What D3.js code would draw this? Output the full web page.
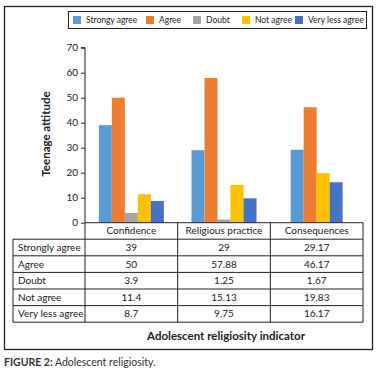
<!DOCTYPE html>
<html lang="en">
  <head>
    <meta charset="utf-8">
    <title>Adolescent religiosity</title>
    <style>
      body { margin: 0; background: #fff; }
      svg { display: block; font-family: Lato, "Open Sans", sans-serif; }
    </style>
    <script src="https://cdn.jsdelivr.net/npm/d3@7"></script>
  </head>
  <body>
    <div class="viz"></div>
    <script>
    // data
    const categories = ["Confidence", "Religious practice", "Consequences"]
    const seriesNames = ["Strongy agree", "Agree", "Doubt", "Not agree", "Very less agree"]
    const rowLabels = ["Strongly agree", "Agree", "Doubt", "Not agree", "Very less agree"]
    const strongly = [39, 29, 29.17]
    const agree = [50, 57.88, 46.17]
    const doubt = [3.9, 1.25, 1.67]
    const notAgree = [11.4, 15.13, 19.83]
    const veryLess = [8.7, 9.75, 16.17]
    const tableText = [
      ["39", "29", "29.17"],
      ["50", "57.88", "46.17"],
      ["3.9", "1.25", "1.67"],
      ["11.4", "15.13", "19.83"],
      ["8.7", "9.75", "16.17"]
    ]
    // the doubt bar for Consequences is not drawn in the original
    const hidden = [["Consequences", "Doubt"]]
    const yTicks = [0, 10, 20, 30, 40, 50, 60, 70]
    const colors = ["#5b9bd5", "#ed7d31", "#a5a5a5", "#ffc000", "#4472c4"]

    const series = [strongly, agree, doubt, notAgree, veryLess]
    const W = 378, H = 372

    const svg = d3.select(".viz").append("svg")
      .attr("width", W).attr("height", H)

    // outer frame
    svg.append("rect")
      .attr("x", 4.5).attr("y", 6.5).attr("width", 368).attr("height", 343)
      .attr("fill", "none").attr("stroke", "#222").attr("stroke-width", 1.3)

    const x = d3.scaleBand().domain(categories).range([85, 363])
    const y = d3.scaleLinear().domain([0, 70]).range([222.7, 47.7])
    const color = d3.scaleOrdinal().domain(seriesNames).range(colors)
    const barW = 13

    // bars
    const g = svg.append("g")
    categories.forEach((c, ci) => {
      const names = seriesNames.filter(s => !hidden.some(h => h[0] == c && h[1] == s))
      const x1 = d3.scaleBand().domain(names)
        .range([x(c) + x.bandwidth() / 2 - names.length * barW / 2, x(c) + x.bandwidth() / 2 + names.length * barW / 2])
      g.selectAll(null)
        .data(names.map(s => ({ s, v: series[seriesNames.indexOf(s)][ci] })))
        .join("rect")
        .attr("x", d => x1(d.s))
        .attr("width", x1.bandwidth())
        .attr("y", d => y(d.v))
        .attr("height", d => y(0) - y(d.v))
        .attr("fill", d => color(d.s))
    })

    // y axis
    const yAxis = svg.append("g")
      .attr("transform", "translate(85,0)")
      .call(d3.axisLeft(y).tickValues(yTicks).tickSize(4).tickPadding(3))
    yAxis.selectAll("path,line").attr("stroke", "#222")
    yAxis.select(".domain").attr("d", `M-4,${y(70)}H0V${y(0)}`)
    yAxis.selectAll("text").attr("font-size", 10).attr("fill", "#222")
      .attr("font-family", "Lato, sans-serif")

    svg.append("text")
      .attr("transform", "translate(50,134) rotate(-90)")
      .attr("text-anchor", "middle")
      .attr("font-size", 11.5).attr("font-weight", "bold").attr("fill", "#222")
      .text("Teenage attitude")

    // category row + table
    const rowTop = 222.7, catH = 16.5, rowH = 16.6
    const lineColor = "#222"
    const table = svg.append("g").attr("stroke", lineColor).attr("stroke-width", 1)
    table.append("line").attr("x1", 85).attr("x2", 363).attr("y1", rowTop).attr("y2", rowTop)
    const tableTop = rowTop + catH
    const tableBottom = tableTop + rowH * rowLabels.length
    ;[...categories.map(c => x(c)), 363].forEach(xx => {
      table.append("line").attr("x1", xx).attr("x2", xx).attr("y1", rowTop).attr("y2", tableBottom)
    })
    table.append("line").attr("x1", 13).attr("x2", 13).attr("y1", tableTop).attr("y2", tableBottom)
    d3.range(rowLabels.length + 1).forEach(i => {
      table.append("line").attr("x1", 13).attr("x2", 363)
        .attr("y1", tableTop + i * rowH).attr("y2", tableTop + i * rowH)
    })

    svg.selectAll(".cat")
      .data(categories)
      .join("text")
      .attr("class", "cat")
      .attr("x", d => x(d) + x.bandwidth() / 2)
      .attr("y", rowTop + catH / 2 + 3.5)
      .attr("text-anchor", "middle")
      .attr("font-size", 10).attr("fill", "#222")
      .text(d => d)

    rowLabels.forEach((r, i) => {
      svg.append("text")
        .attr("x", 18).attr("y", tableTop + i * rowH + rowH / 2 + 3.5)
        .attr("font-size", 10).attr("fill", "#222")
        .text(r)
      categories.forEach((c, ci) => {
        svg.append("text")
          .attr("x", x(c) + x.bandwidth() / 2)
          .attr("y", tableTop + i * rowH + rowH / 2 + 3.5)
          .attr("text-anchor", "middle")
          .attr("font-size", 10).attr("fill", "#222")
          .text(tableText[i][ci])
      })
    })

    svg.append("text")
      .attr("x", 226).attr("y", 340)
      .attr("text-anchor", "middle")
      .attr("font-size", 11.5).attr("font-weight", "bold").attr("fill", "#222")
      .text("Adolescent religiosity indicator")

    // legend
    svg.append("rect")
      .attr("x", 68.5).attr("y", 11.5).attr("width", 298).attr("height", 17)
      .attr("fill", "#fff").attr("stroke", "#222").attr("stroke-width", 1)
    const legendX = [73, 146, 193, 242, 295]
    seriesNames.forEach((s, i) => {
      svg.append("rect")
        .attr("x", legendX[i]).attr("y", 16).attr("width", 8).attr("height", 8)
        .attr("fill", color(s))
      svg.append("text")
        .attr("x", legendX[i] + 13).attr("y", 23)
        .attr("font-size", 8.5).attr("fill", "#222")
        .text(s)
    })

    const caption = svg.append("text")
      .attr("x", 4).attr("y", 366)
      .attr("font-size", 10.5).attr("fill", "#333")
    caption.append("tspan").attr("font-weight", "bold").text("FIGURE 2:")
    caption.append("tspan").text(" Adolescent religiosity.")
    </script>
  </body>
</html>
